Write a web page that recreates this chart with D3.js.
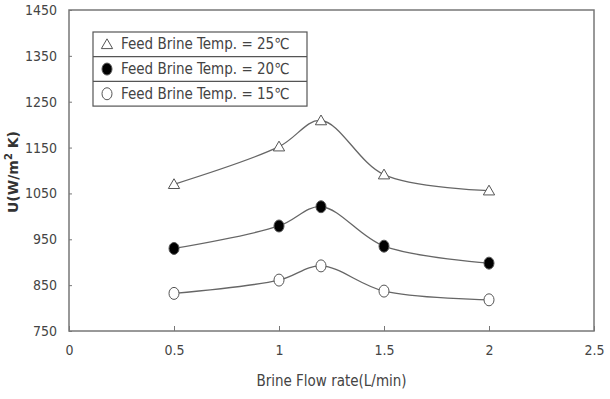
<!DOCTYPE html>
<html>
<head>
<meta charset="utf-8">
<script src="https://d3js.org/d3.v7.min.js"></script>
<style>
  body { margin: 0; background: #fff; }
  text { font-family: "Liberation Sans Narrow", "DejaVu Sans Condensed", sans-serif; fill: #444; }
</style>
</head>
<body>
<div id="chart"></div>
<script>
// data
let flowRates = [0.5, 1.0, 1.2, 1.5, 2.0]
let temp25 = [1070, 1152, 1209, 1091, 1056]
let temp20 = [930, 979, 1021, 935, 898]
let temp15 = [832, 861, 892, 837, 818]
let legendLabels = ["Feed Brine Temp. = 25\u2103", "Feed Brine Temp. = 20\u2103", "Feed Brine Temp. = 15\u2103"]
let xTicks = [0, 0.5, 1, 1.5, 2, 2.5]
let yTicks = [750, 850, 950, 1050, 1150, 1250, 1350, 1450]

let margin = {top: 10, right: 16, bottom: 68, left: 69},
  width = 610 - margin.left - margin.right,
  height = 399 - margin.top - margin.bottom;

let svg = d3.select("#chart")
.append("svg")
  .attr("width", 610)
  .attr("height", 399)
.append("g")
  .attr("transform", "translate(" + margin.left + "," + margin.top + ")");

let x = d3.scaleLinear().domain([0, 2.5]).range([0, width])
let y = d3.scaleLinear().domain([750, 1450]).range([height, 0])

// frame
svg.append("rect")
  .attr("width", width)
  .attr("height", height)
  .style("fill", "none")
  .style("stroke", "#777")
  .style("stroke-width", 1.5)

// axes
svg.append("g")
  .attr("transform", "translate(0," + height + ")")
  .call(d3.axisBottom(x).tickValues(xTicks).tickSize(-5).tickPadding(14).tickFormat(d => d))
  .call(g => g.select(".domain").remove())
  .call(g => g.selectAll("line").style("stroke", "#777"))
  .selectAll("text")
    .style("font-size", "14px")

svg.append("g")
  .call(d3.axisLeft(y).tickValues(yTicks).tickSize(-3).tickPadding(12).tickFormat(d => d))
  .call(g => g.select(".domain").remove())
  .call(g => g.selectAll("line").style("stroke", "#777"))
  .selectAll("text")
    .style("font-size", "14px")

// axis titles
svg.append("text")
  .attr("x", width / 2)
  .attr("y", height + 55)
  .attr("text-anchor", "middle")
  .style("font-size", "15px")
  .text("Brine Flow rate(L/min)")

let yTitle = svg.append("text")
  .attr("transform", "translate(-51," + 162 + ") rotate(-90)")
  .attr("text-anchor", "middle")
  .style("font-size", "14px")
  .style("font-weight", "bold")
  .style("font-family", "'DejaVu Sans', sans-serif")
  .style("fill", "#333")
yTitle.append("tspan").text("U(W/m")
yTitle.append("tspan").attr("dy", -6).style("font-size", "10px").text("2")
yTitle.append("tspan").attr("dy", 6).text(" K)")

// lines
let series = [
  {values: temp25, marker: "triangle"},
  {values: temp20, marker: "filled"},
  {values: temp15, marker: "open"}
]

let line = d3.line()
  .x((d, i) => x(flowRates[i]))
  .y(d => y(d))
  .curve(d3.curveCatmullRom.alpha(0.5))

series.forEach(function(s) {
  svg.append("path")
    .datum(s.values)
    .attr("d", line)
    .style("fill", "none")
    .style("stroke", "#666")
    .style("stroke-width", 1.3)
})

function drawMarker(g, type, cx, cy) {
  if (type == "triangle") {
    g.append("path")
      .attr("d", d3.symbol(d3.symbolTriangle, 55)())
      .attr("transform", "translate(" + cx + "," + (cy + 1) + ")")
      .style("fill", "#fff")
      .style("stroke", "#555")
      .style("stroke-width", 1)
  } else {
    g.append("ellipse")
      .attr("cx", cx)
      .attr("cy", cy)
      .attr("rx", 5)
      .attr("ry", 6)
      .style("fill", type == "filled" ? "#000" : "#fff")
      .style("stroke", "#555")
      .style("stroke-width", 1)
  }
}

series.forEach(function(s) {
  s.values.forEach(function(v, i) {
    drawMarker(svg, s.marker, x(flowRates[i]), y(v))
  })
})

// legend
let legend = svg.append("g").attr("transform", "translate(24,22)")
let rowH = 24.7
legend.append("rect")
  .attr("width", 214)
  .attr("height", rowH * 3)
  .style("fill", "#fff")
  .style("stroke", "#555")
  .style("stroke-width", 1.2)

series.forEach(function(s, i) {
  if (i > 0) {
    legend.append("line")
      .attr("x1", 0).attr("x2", 214)
      .attr("y1", rowH * i).attr("y2", rowH * i)
      .style("stroke", "#555")
      .style("stroke-width", 1.2)
  }
  drawMarker(legend, s.marker, 14, rowH * i + rowH / 2)
  legend.append("text")
    .attr("x", 28)
    .attr("y", rowH * i + rowH / 2 + 5)
    .style("font-size", "15px")
    .text(legendLabels[i])
})
</script>
</body>
</html>
